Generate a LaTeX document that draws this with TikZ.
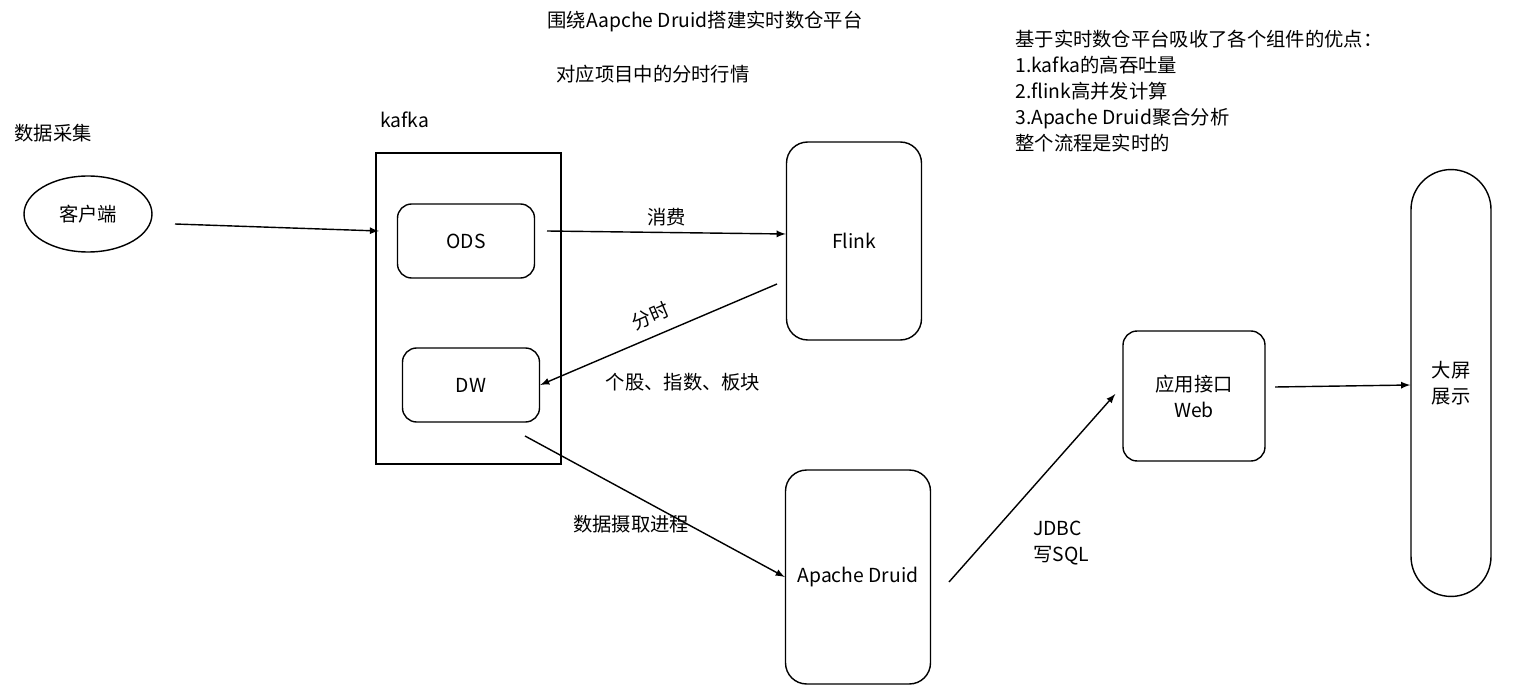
\documentclass[tikz,border=0pt]{standalone}
\usepackage{fontspec}
\setmainfont{Noto Sans CJK SC}
\usetikzlibrary{shapes.geometric}
\tikzset{
  box/.style={draw,thick,rounded corners=8pt,align=center},
  link/.style={thick,-latex},
  txt/.style={anchor=west,inner sep=0pt},
}
\begin{document}
\begin{tikzpicture}[x=0.02cm,y=-0.02cm,font=\fontsize{11}{14.8}\selectfont]
  \useasboundingbox (0,0) rectangle (1515,689);

  % titles
  \node (title) at (705,22) {围绕Aapche Druid搭建实时数仓平台};
  \node (sub) at (653,74) {对应项目中的分时行情};
  \node[txt] (collect) at (14,133) {数据采集};
  \node[txt] (kafkalbl) at (380,120) {kafka};
  \node[txt,align=left,anchor=north west] (notes) at (1015,30)
    {基于实时数仓平台吸收了各个组件的优点：\\1.kafka的高吞吐量\\2.flink高并发计算\\3.Apache Druid聚合分析\\整个流程是实时的};

  % nodes
  \node[draw,thick,ellipse,minimum width=2.56cm,minimum height=1.52cm] (client) at (88,214) {客户端};
  \draw[thick] (376,153) rectangle (561,464);
  \node[box,minimum width=2.74cm,minimum height=1.48cm] (ods) at (466,241) {ODS};
  \node[box,minimum width=2.74cm,minimum height=1.48cm] (dw) at (471,385) {DW};
  \node[box,minimum width=2.7cm,minimum height=3.96cm,rounded corners=12pt] (flink) at (854,241) {Flink};
  \node[box,minimum width=2.9cm,minimum height=4.28cm,rounded corners=12pt] (druid) at (858,577) {Apache Druid};
  \node[box,minimum width=2.84cm,minimum height=2.6cm] (web) at (1194,396) {应用接口\\Web};
  \node[box,minimum width=1.6cm,minimum height=8.54cm,rounded corners=0.8cm] (screen) at (1451,383) {大屏\\展示};

  % connector ends
  \coordinate (c1) at (175,224); \coordinate (c2) at (379,231);
  \coordinate (c3) at (547,231); \coordinate (c4) at (777,284);
  \coordinate (c5) at (525,436); \coordinate (c6) at (949,582);
  \coordinate (c7) at (1275,387);

  \draw[link] (c1) -- (c2);
  \draw[link] (c3) -- (flink.west|-0,234) node[midway,above] {消费};
  \draw[link] (c4) -- (dw.east) node[midway,above,sloped,inner sep=6pt] {分时};
  \node (parts) at (683,382) {个股、指数、板块};
  \draw[link] (c5) -- (druid.west);
  \node (ingest) at (631,524) {数据摄取进程};
  \draw[link] (c6) -- ([xshift=-4pt]web.west|-0,394);
  \node[txt,align=left] (jdbc) at (1033,543) {JDBC\\写SQL};
  \draw[link] (c7) -- (screen.west|-0,385);
\end{tikzpicture}
\end{document}
